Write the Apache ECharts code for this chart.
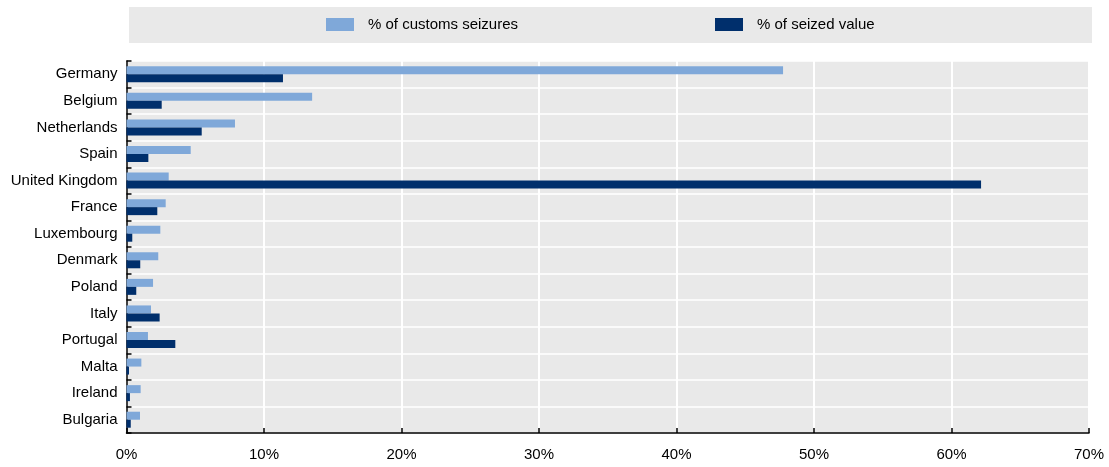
<!DOCTYPE html>
<html>
<head>
<meta charset="utf-8">
<script src="https://cdn.jsdelivr.net/npm/echarts@6/dist/echarts.min.js"></script>
<style>
html,body{margin:0;padding:0;background:#fff;}
#chart{width:1109px;height:467px;}
</style>
</head>
<body>
<div id="chart"></div>
<script>
const categories = ["Germany","Belgium","Netherlands","Spain","United Kingdom","France","Luxembourg","Denmark","Poland","Italy","Portugal","Malta","Ireland","Bulgaria"];
const customsSeizures = [47.75, 13.5, 7.89, 4.67, 3.07, 2.85, 2.46, 2.31, 1.93, 1.78, 1.56, 1.08, 1.03, 0.98];
const seizedValue = [11.38, 2.56, 5.47, 1.59, 62.15, 2.24, 0.42, 1.0, 0.71, 2.41, 3.55, 0.18, 0.25, 0.31];
const seriesNames = ["% of customs seizures", "% of seized value"];
const xTicks = [0, 10, 20, 30, 40, 50, 60, 70];

const chart = echarts.init(document.getElementById('chart'), null, {renderer:'canvas'});
const font = 'Arial, "Liberation Sans", sans-serif';
const option = {
  animation: false,
  graphic: [{
    type: 'rect', left: 129, top: 7, z: -1,
    shape: {width: 963, height: 36},
    style: {fill: '#e9e9e9'}
  }],
  legend: [{
    data: [seriesNames[0]], left: 326, top: 17, itemWidth: 28, itemHeight: 13,
    icon: 'rect', padding: 0,
    textStyle: {fontFamily: font, fontSize: 15, color: '#000', padding: [0,0,0,9]}
  },{
    data: [seriesNames[1]], left: 715, top: 17, itemWidth: 28, itemHeight: 13,
    icon: 'rect', padding: 0,
    textStyle: {fontFamily: font, fontSize: 15, color: '#000', padding: [0,0,0,9]}
  }],
  grid: {left: 126.5, right: 20, top: 61, bottom: 34, show: true, backgroundColor: '#e9e9e9', borderWidth: 0, containLabel: false},
  xAxis: {
    type: 'value', min: xTicks[0], max: xTicks[xTicks.length-1], interval: 10,
    axisLine: {show: true, lineStyle: {color: '#000', width: 1.5}},
    axisTick: {show: true, inside: true, length: 5, lineStyle: {color: '#000', width: 1.5}},
    axisLabel: {fontFamily: font, fontSize: 15, color: '#000', margin: 14, formatter: v => v + '%'},
    splitLine: {show: true, lineStyle: {color: '#fff', width: 2}}
  },
  yAxis: {
    type: 'category', data: categories, inverse: true,
    axisLine: {show: true, lineStyle: {color: '#000', width: 1.5}},
    axisTick: {show: true, inside: true, length: 5, lineStyle: {color: '#000', width: 1.5}},
    axisLabel: {fontFamily: font, fontSize: 15, color: '#000', margin: 9},
    splitLine: {show: true, lineStyle: {color: '#fff', width: 1.5}}
  },
  series: [{
    name: seriesNames[0], type: 'bar', data: customsSeizures, barWidth: 8, barGap: '0%',
    itemStyle: {color: '#7fa8d9'}
  },{
    name: seriesNames[1], type: 'bar', data: seizedValue, barWidth: 8, barGap: '0%',
    itemStyle: {color: '#002f6c'}
  }]
};
chart.setOption(option);
</script>
</body>
</html>
